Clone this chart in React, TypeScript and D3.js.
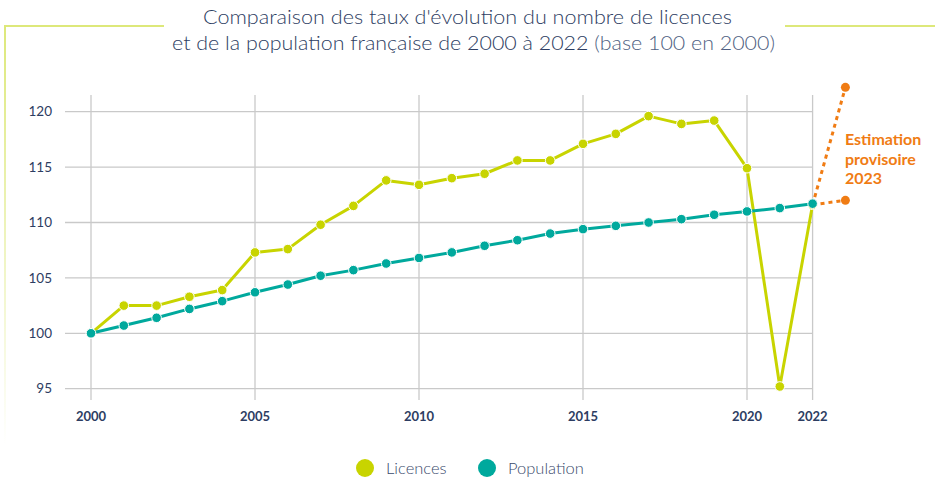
import React from "react";
import * as d3 from "d3";

const years = d3.range(2000, 2023);
const licences = [100, 102.5, 102.5, 103.3, 103.9, 107.3, 107.6, 109.8, 111.5, 113.8, 113.4, 114.0, 114.4, 115.6, 115.6, 117.1, 118.0, 119.6, 118.9, 119.2, 114.9, 95.2, 111.6];
const population = [100, 100.7, 101.4, 102.2, 102.9, 103.7, 104.4, 105.2, 105.7, 106.3, 106.8, 107.3, 107.9, 108.4, 109.0, 109.4, 109.7, 110.0, 110.3, 110.7, 111.0, 111.3, 111.7];
const estimateYear = 2023;
const estimates = [122.2, 112.0];
const xTicks = [2000, 2005, 2010, 2015, 2020, 2022];
const yTicks = [95, 100, 105, 110, 115, 120];
const seriesNames = ["Licences", "Population"];
const titleLine1 = "Comparaison des taux d'évolution du nombre de licences";
const titleLine2a = "et de la population française de 2000 à 2022 ";
const titleLine2b = "(base 100 en 2000)";
const estLabel = ["Estimation", "provisoire", "2023"];

const W = 935, H = 480;
const C_LIC = "#c8d400";
const C_POP = "#00a99d";
const C_EST = "#f07c14";
const C_TXT = "#2d3d62";
const C_GRID = "#c9c9c9";
const FONT = "Lato, 'Open Sans', sans-serif";

export default function App() {
  const x = d3.scaleLinear().domain([2000, 2022]).range([91, 812.6]);
  const y = d3.scaleLinear().domain([95, 120]).range([388.7, 111.7]);
  const line = d3.line<[number, number]>().x(d => x(d[0])).y(d => y(d[1]));
  const licPts: [number, number][] = years.map((yr, i) => [yr, licences[i]]);
  const popPts: [number, number][] = years.map((yr, i) => [yr, population[i]]);
  const last: [number, number] = [2022, licences[licences.length - 1]];
  return (
    <svg width={W} height={H} style={{ position: "absolute", left: 0, top: 0, background: "#fff" }} fontFamily={FONT}>
      <defs>
        <linearGradient id="fade" x1="0" y1="0" x2="0" y2="1">
          <stop offset="0" stopColor="#dde87a" stopOpacity={1} />
          <stop offset="1" stopColor="#dde87a" stopOpacity={0} />
        </linearGradient>
      </defs>
      {/* frame decoration */}
      <line x1={4} x2={164} y1={26} y2={26} stroke="#dde87a" strokeWidth={2} />
      <line x1={785} x2={935} y1={26} y2={26} stroke="#dde87a" strokeWidth={2} />
      <rect x={4} y={25} width={2} height={420} fill="url(#fade)" />
      {/* title */}
      <text x={203} y={24} textLength={529} lengthAdjust="spacingAndGlyphs" fontSize={20} fontWeight={300} fill={C_TXT}>{titleLine1}</text>
      <text x={172} y={50} textLength={603} lengthAdjust="spacingAndGlyphs" fontSize={20} fontWeight={300} fill={C_TXT}>
        {titleLine2a}<tspan fill="#4f5f82">{titleLine2b}</tspan>
      </text>
      {/* grid */}
      {yTicks.map(t => (
        <g key={"y" + t}>
          <line x1={65} x2={x(2022)} y1={y(t)} y2={y(t)} stroke={C_GRID} strokeWidth={1.3} />
          <text x={52} y={y(t)} dy="0.35em" textAnchor="end" fontSize={13.5} fill={C_TXT}>{t}</text>
        </g>
      ))}
      {xTicks.map(t => (
        <g key={"x" + t}>
          <line x1={x(t)} x2={x(t)} y1={95} y2={400} stroke={C_GRID} strokeWidth={1.3} />
          <text x={x(t)} y={416} dy="0.35em" textAnchor="middle" fontSize={13} fontWeight={700} fill={C_TXT}>{t}</text>
        </g>
      ))}
      {/* licences */}
      <path d={line(licPts) || ""} fill="none" stroke={C_LIC} strokeWidth={3} strokeLinejoin="round" />
      {licPts.map((p, i) => (
        <circle key={"l" + i} cx={x(p[0])} cy={y(p[1])} r={4.8} fill={C_LIC} stroke="#fff" strokeWidth={1} />
      ))}
      {/* estimates */}
      {estimates.map((v, i) => (
        <g key={"e" + i}>
          <path d={line([last, [estimateYear, v]]) || ""} fill="none" stroke={C_EST} strokeWidth={3} strokeDasharray="4 4" />
          <circle cx={x(estimateYear)} cy={y(v)} r={4.5} fill={C_EST} />
        </g>
      ))}
      {/* population */}
      <path d={line(popPts) || ""} fill="none" stroke={C_POP} strokeWidth={3} strokeLinejoin="round" />
      {popPts.map((p, i) => (
        <circle key={"p" + i} cx={x(p[0])} cy={y(p[1])} r={4.8} fill={C_POP} stroke="#fff" strokeWidth={1} />
      ))}
      {/* estimate label */}
      {estLabel.map((s, i) => (
        <text key={s} x={845} y={145 + i * 19.5} fontSize={16} fontWeight={700} fill={C_EST}>{s}</text>
      ))}
      {/* legend */}
      {seriesNames.map((s, i) => {
        const cx = i === 0 ? 365 : 487;
        return (
          <g key={s}>
            <circle cx={cx} cy={468} r={9} fill={i === 0 ? C_LIC : C_POP} />
            <text x={cx + 21} y={468} dy="0.35em" fontSize={16.5} fontWeight={300} fill="#3a4a6c">{s}</text>
          </g>
        );
      })}
    </svg>
  );
}
